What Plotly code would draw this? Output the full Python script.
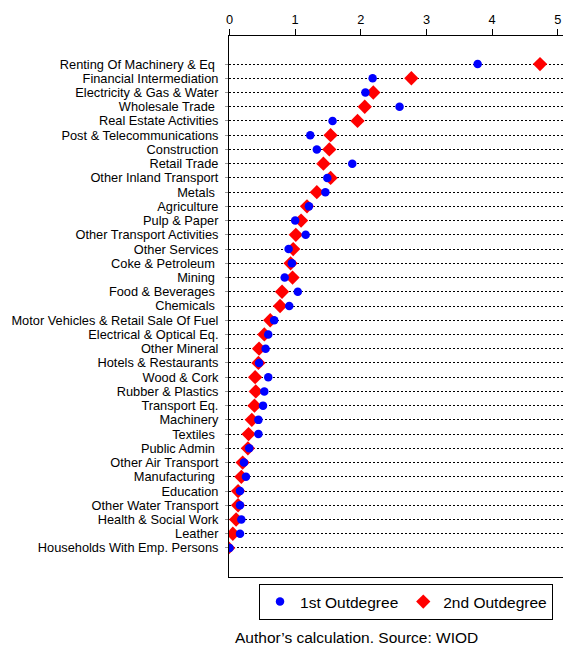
import plotly.graph_objects as go

sectors = [
    "Renting Of Machinery & Eq ", "Financial Intermediation", "Electricity & Gas & Water",
    "Wholesale Trade ", "Real Estate Activities", "Post & Telecommunications",
    "Construction", "Retail Trade", "Other Inland Transport", "Metals ", "Agriculture",
    "Pulp & Paper", "Other Transport Activities", "Other Services", "Coke & Petroleum ",
    "Mining ", "Food & Beverages ", "Chemicals ", "Motor Vehicles & Retail Sale Of Fuel",
    "Electrical & Optical Eq.", "Other Mineral", "Hotels & Restaurants", "Wood & Cork",
    "Rubber & Plastics", "Transport Eq.", "Machinery", "Textiles ", "Public Admin ",
    "Other Air Transport", "Manufacturing ", "Education", "Other Water Transport",
    "Health & Social Work", "Leather", "Households With Emp. Persons",
]
first_out = [3.78, 2.18, 2.07, 2.59, 1.57, 1.23, 1.33, 1.87, 1.49, 1.46, 1.21,
             1.00, 1.16, 0.90, 0.95, 0.84, 1.04, 0.91, 0.68, 0.59, 0.55, 0.45,
             0.59, 0.53, 0.51, 0.44, 0.44, 0.30, 0.22, 0.25, 0.16, 0.16, 0.18,
             0.16, 0.00]
second_out = [4.73, 2.77, 2.19, 2.06, 1.95, 1.54, 1.52, 1.43, 1.54, 1.33, 1.18,
              1.09, 1.01, 0.97, 0.93, 0.96, 0.80, 0.77, 0.62, 0.53, 0.45, 0.44,
              0.39, 0.40, 0.38, 0.34, 0.29, 0.28, 0.20, 0.18, 0.13, 0.13, 0.10,
              0.05, -0.02]
x_ticks = [0, 1, 2, 3, 4, 5]

pos = list(range(len(sectors)))
font = "Liberation Sans, Arial, sans-serif"

fig = go.Figure()
fig.add_trace(go.Scatter(
    x=second_out, y=pos, mode="markers", name="2nd Outdegree",
    marker=dict(symbol="diamond", color="#FF0000", size=11, line=dict(width=0)),
    legendrank=2,
))
fig.add_trace(go.Scatter(
    x=first_out, y=pos, mode="markers", name="1st Outdegree",
    marker=dict(symbol="circle", color="#0000FF", size=8.5, line=dict(width=0)),
    legendrank=1,
))

fig.update_layout(
    width=563, height=647,
    margin=dict(l=229, r=0, t=36, b=70),
    plot_bgcolor="white", paper_bgcolor="white",
    font=dict(family=font, size=12.8, color="black"),
    showlegend=True,
    legend=dict(
        orientation="h", x=0.53, y=-0.013, xanchor="center", yanchor="top",
        bordercolor="black", borderwidth=1, bgcolor="white",
        font=dict(size=15.5, family=font), itemwidth=30,
    ),
    xaxis=dict(
        side="top", range=[-0.008, 5.08], tickvals=x_ticks,
        ticks="outside", ticklen=6, tickcolor="black", tickwidth=1,
        showline=True, linecolor="black", linewidth=1, mirror=True,
        showgrid=False, zeroline=False, automargin=False,
        ticklabeloverflow="allow",
        tickfont=dict(size=12.8),
    ),
    yaxis=dict(
        range=[len(sectors) - 1 + 2.04, -1.97], tickvals=pos, ticktext=sectors,
        ticks="outside", ticklen=3, tickcolor="#999999", ticklabelstandoff=4,
        showline=True, linecolor="black", linewidth=1,
        showgrid=True, gridcolor="black", gridwidth=1, griddash="2px,2px",
        zeroline=False, automargin=False, tickfont=dict(size=12.8),
    ),
    annotations=[dict(
        text="Author\u2019s calculation. Source: WIOD",
        xref="paper", yref="paper", x=0.012, y=-0.111,
        xanchor="left", yanchor="middle", showarrow=False,
        font=dict(size=15.5, family=font, color="black"),
    )],
)

fig.write_html(
    "out.html",
    config={"displayModeBar": False},
    post_script="document.body.style.margin='0';document.body.style.overflow='hidden';",
)
